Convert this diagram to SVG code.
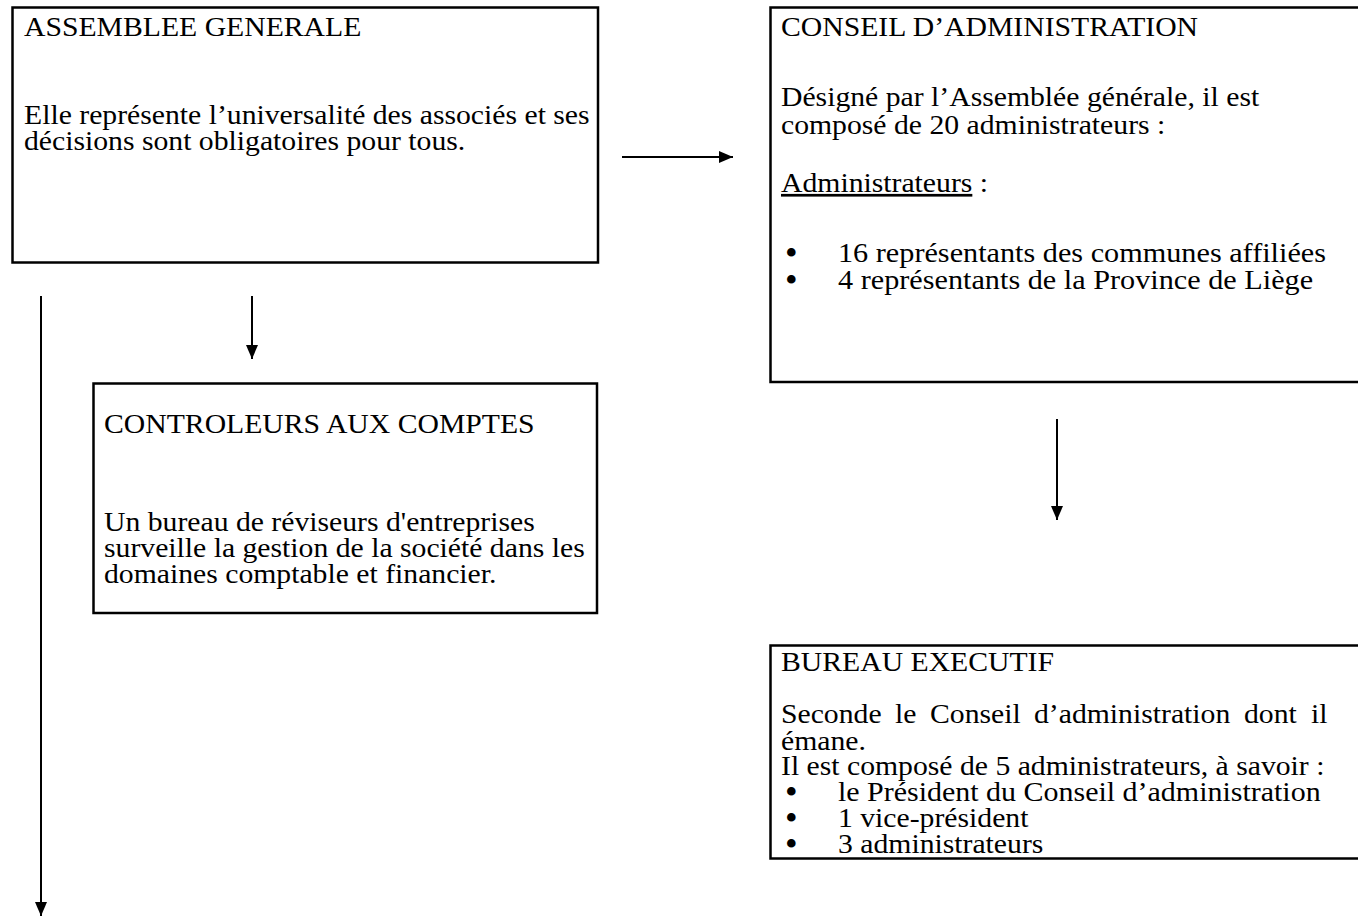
<svg xmlns="http://www.w3.org/2000/svg" width="1358" height="922" viewBox="0 0 1358 922">
<style>
.box{fill:#fff;stroke:#000;stroke-width:2.5}
.t{font-family:"Liberation Serif","Times New Roman",serif;font-size:27px;fill:#000}
.b{font-family:"Liberation Serif","Times New Roman",serif;font-size:36px;fill:#000}
.c{stroke:#000;stroke-width:2;fill:none}
</style>
<defs>
<marker id="ah" viewBox="0 0 14 12" refX="14" refY="6" markerWidth="14" markerHeight="12" markerUnits="userSpaceOnUse" orient="auto">
<path d="M0,0 L14,6 L0,12 z" fill="#000"/>
</marker>
</defs>
<rect width="1358" height="922" fill="#fff"/>
<g id="assemblee">
<rect class="box" x="12.5" y="7.5" width="585.5" height="255"/>
<text class="t" transform="translate(24 36) scale(1.1 1)">ASSEMBLEE GENERALE</text>
<text class="t" transform="translate(24 124) scale(1.1 1)">Elle représente l’universalité des associés et ses</text>
<text class="t" transform="translate(24 150) scale(1.1 1)">décisions sont obligatoires pour tous.</text>
</g>
<g id="conseil">
<rect class="box" x="770.5" y="7.5" width="600" height="374.5"/>
<text class="t" transform="translate(781 36) scale(1.1 1)">CONSEIL D’ADMINISTRATION</text>
<text class="t" transform="translate(781 106) scale(1.1 1)">Désigné par l’Assemblée générale, il est</text>
<text class="t" transform="translate(781 134) scale(1.1 1)">composé de 20 administrateurs :</text>
<text class="t" transform="translate(781 192) scale(1.1 1)"><tspan text-decoration="underline">Administrateurs</tspan> :</text>
<text class="b" x="785" y="265">•</text>
<text class="t" transform="translate(838 262) scale(1.12 1)">16 représentants des communes affiliées</text>
<text class="b" x="785" y="292">•</text>
<text class="t" transform="translate(838 289) scale(1.12 1)">4 représentants de la Province de Liège</text>
</g>
<g id="controleurs">
<rect class="box" x="93.5" y="383.5" width="503.5" height="229.5"/>
<text class="t" transform="translate(104 433) scale(1.1 1)">CONTROLEURS AUX COMPTES</text>
<text class="t" transform="translate(104 531) scale(1.1 1)">Un bureau de réviseurs d'entreprises</text>
<text class="t" transform="translate(104 557) scale(1.1 1)">surveille la gestion de la société dans les</text>
<text class="t" transform="translate(104 583) scale(1.1 1)">domaines comptable et financier.</text>
</g>
<g id="bureau">
<rect class="box" x="770.5" y="645.5" width="600" height="213"/>
<text class="t" transform="translate(781 671) scale(1.1 1)">BUREAU EXECUTIF</text>
<text class="t" transform="translate(781 723) scale(1.1 1)">Seconde</text>
<text class="t" transform="translate(895 723) scale(1.1 1)">le</text>
<text class="t" transform="translate(930 723) scale(1.1 1)">Conseil</text>
<text class="t" transform="translate(1034 723) scale(1.1 1)">d’administration</text>
<text class="t" transform="translate(1244 723) scale(1.1 1)">dont</text>
<text class="t" transform="translate(1311 723) scale(1.1 1)">il</text>
<text class="t" transform="translate(781 750) scale(1.1 1)">émane.</text>
<text class="t" transform="translate(781 775) scale(1.1 1)">Il est composé de 5 administrateurs, à savoir :</text>
<text class="b" x="785" y="804">•</text>
<text class="t" transform="translate(838 801) scale(1.11 1)">le Président du Conseil d’administration</text>
<text class="b" x="785" y="830">•</text>
<text class="t" transform="translate(838 827) scale(1.1 1)">1 vice-président</text>
<text class="b" x="785" y="856">•</text>
<text class="t" transform="translate(838 853) scale(1.1 1)">3 administrateurs</text>
</g>
<g id="connectors">
<line class="c" x1="622" y1="157" x2="733" y2="157" marker-end="url(#ah)"/>
<line class="c" x1="252" y1="296" x2="252" y2="359" marker-end="url(#ah)"/>
<line class="c" x1="41" y1="296" x2="41" y2="916" marker-end="url(#ah)"/>
<line class="c" x1="1057" y1="419" x2="1057" y2="520" marker-end="url(#ah)"/>
</g>
</svg>
